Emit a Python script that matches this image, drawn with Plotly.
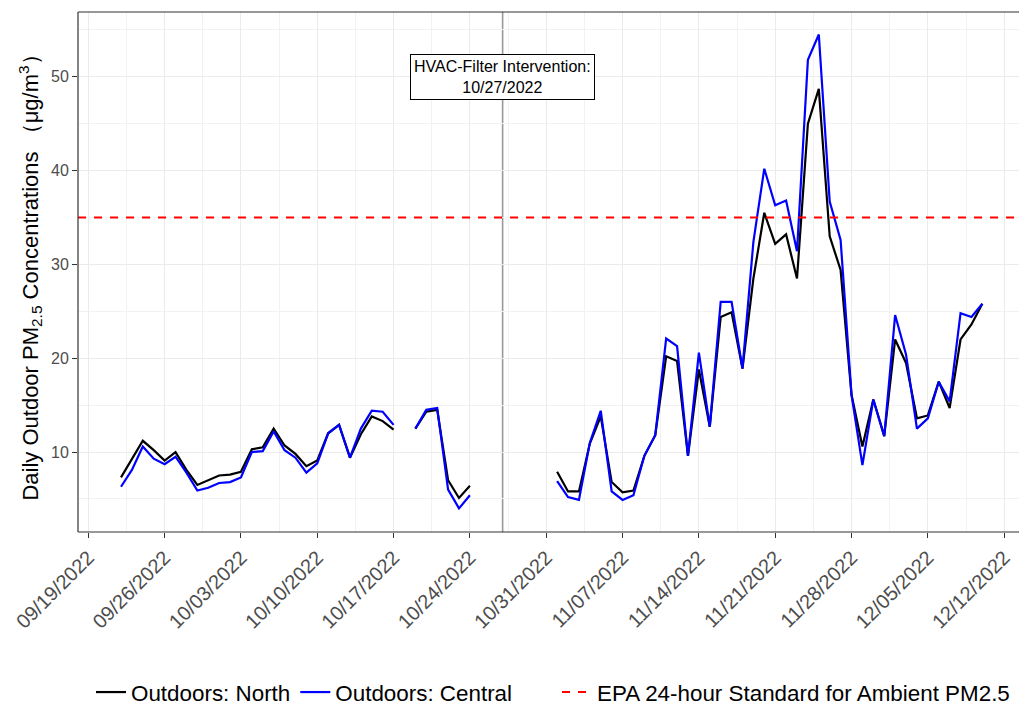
import pandas as pd
import plotly.graph_objects as go

# Daily outdoor PM2.5 (ug/m3) at two outdoor monitors, one value per day.
dates = pd.date_range("2022-09-22", "2022-12-10", freq="D")

north = [
    # 09/22 - 10/17
    7.3, 9.2, 11.2, 10.2, 9.1, 10.0, 8.1, 6.5, 7.0, 7.5, 7.6, 7.9, 10.3,
    10.5, 12.5, 10.7, 9.8, 8.5, 9.1, 12.0, 12.9, 9.4, 11.9, 13.8, 13.3, 12.4,
    # 10/18
    None,
    # 10/19 - 10/24
    12.5, 14.3, 14.5, 7.0, 5.1, 6.4,
    # 10/25 - 10/31
    None, None, None, None, None, None, None,
    # 11/01 - 11/30
    7.9, 5.8, 5.8, 10.9, 13.8, 6.8, 5.7, 5.9, 9.6, 11.8,
    20.2, 19.7, 9.6, 18.8, 12.7, 24.4, 24.9, 18.9, 28.5, 35.5,
    32.2, 33.2, 28.5, 45.0, 48.7, 33.0, 29.4, 16.1, 10.6, 15.6,
    # 12/01 - 12/10
    11.7, 22.0, 19.5, 13.6, 13.9, 17.5, 14.7, 22.0, 23.6, 25.8,
]

central = [
    # 09/22 - 10/17
    6.3, 8.1, 10.6, 9.3, 8.7, 9.5, 7.8, 5.9, 6.2, 6.7, 6.8, 7.3, 10.0,
    10.1, 12.2, 10.2, 9.4, 7.8, 8.8, 12.0, 12.9, 9.4, 12.5, 14.4, 14.3, 12.9,
    # 10/18
    None,
    # 10/19 - 10/24
    12.5, 14.5, 14.7, 6.0, 4.0, 5.4,
    # 10/25 - 10/31
    None, None, None, None, None, None, None,
    # 11/01 - 11/30
    6.9, 5.2, 4.9, 11.0, 14.4, 5.8, 4.9, 5.4, 9.6, 11.8,
    22.1, 21.3, 9.6, 20.6, 12.7, 26.0, 26.0, 18.9, 32.4, 40.2,
    36.3, 36.8, 31.4, 51.8, 54.5, 36.7, 32.6, 16.1, 8.6, 15.6,
    # 12/01 - 12/10
    11.7, 24.6, 20.4, 12.5, 13.6, 17.5, 15.4, 24.8, 24.4, 25.8,
]

EPA_STANDARD = 35
INTERVENTION_DATE = "2022-10-27"
INTERVENTION_LABEL = "HVAC-Filter Intervention:<br>10/27/2022"

x_ticks = pd.date_range("2022-09-19", "2022-12-12", freq="7D")
y_ticks = [10, 20, 30, 40, 50]

x_range = ["2022-09-18 01:20", "2022-12-13 08:40"]
y_range = [1.48, 56.9]

FONT = "Liberation Sans, Arial, Helvetica, sans-serif"
GRID = "#ebebeb"
MINOR_GRID = "#f2f2f2"
TICK_TEXT = "#4d4d4d"
BORDER = "#333333"
LEGEND_FONT = dict(family=FONT, size=22.4, color="#000000")
LEGEND_TOP = 1 - 671 / 705

fig = go.Figure()

fig.add_trace(go.Scatter(
    x=dates, y=north, mode="lines", name="Outdoors: North",
    line=dict(color="#000000", width=2.2), connectgaps=False, legend="legend",
))
fig.add_trace(go.Scatter(
    x=dates, y=central, mode="lines", name="Outdoors: Central",
    line=dict(color="#0000ff", width=2.2), connectgaps=False, legend="legend",
))
fig.add_trace(go.Scatter(
    x=x_range, y=[EPA_STANDARD, EPA_STANDARD], mode="lines",
    name="EPA 24-hour Standard for Ambient PM2.5",
    line=dict(color="#ff0000", width=2, dash="8px,8px"), legend="legend2",
))

# intervention marker
fig.add_vline(x=INTERVENTION_DATE, line=dict(color="#999999", width=1.6), layer="below")
fig.add_annotation(
    x=INTERVENTION_DATE, y=50, text=INTERVENTION_LABEL, showarrow=False,
    font=dict(family=FONT, size=16, color="#000000"),
    bgcolor="#ffffff", bordercolor="#000000", borderwidth=1, borderpad=3,
)

# panel border (left, top, bottom)
for x0, y0, x1, y1 in [(0, 0, 0, 1), (0, 1, 1, 1), (0, 0, 1, 0)]:
    fig.add_shape(type="line", xref="paper", yref="paper", x0=x0, y0=y0, x1=x1, y1=y1,
                  line=dict(color=BORDER, width=1.2), layer="above")

fig.update_xaxes(
    type="date", range=x_range,
    tickvals=x_ticks, ticktext=[d.strftime("%m/%d/%Y") for d in x_ticks],
    tickangle=-45, tickfont=dict(family=FONT, size=20, color=TICK_TEXT),
    ticks="outside", ticklen=5, tickwidth=1, tickcolor=BORDER,
    showgrid=True, gridcolor=GRID, gridwidth=1,
    minor=dict(tick0="2022-09-15 12:00", dtick=7 * 24 * 3600 * 1000,
               showgrid=True, gridcolor=MINOR_GRID, gridwidth=1),
    showline=False, zeroline=False,
)
fig.update_yaxes(
    range=y_range, tickvals=y_ticks,
    tickfont=dict(family=FONT, size=16, color=TICK_TEXT),
    ticks="outside", ticklen=5, tickwidth=1, tickcolor=BORDER,
    showgrid=True, gridcolor=GRID, gridwidth=1,
    minor=dict(tick0=5, dtick=10, showgrid=True, gridcolor=MINOR_GRID, gridwidth=1),
    showline=False, zeroline=False,
    title=dict(text="Daily Outdoor PM<sub>2.5</sub> Concentrations （μg/m<sup>3</sup>）",
               font=dict(family=FONT, size=22, color="#000000"), standoff=6),
)

fig.update_layout(
    width=1019, height=705,
    margin=dict(l=78, r=0, t=12, b=173),
    paper_bgcolor="#ffffff", plot_bgcolor="#ffffff",
    font=dict(family=FONT),
    showlegend=True,
    legend=dict(orientation="h", xref="container", yref="container",
                x=91 / 1019, xanchor="left", y=LEGEND_TOP, yanchor="top",
                font=LEGEND_FONT, bgcolor="rgba(0,0,0,0)", itemwidth=30),
    legend2=dict(orientation="h", xref="container", yref="container",
                 x=557 / 1019, xanchor="left", y=LEGEND_TOP, yanchor="top",
                 font=LEGEND_FONT, bgcolor="rgba(0,0,0,0)", itemwidth=30),
)

fig.write_html("out.html")
